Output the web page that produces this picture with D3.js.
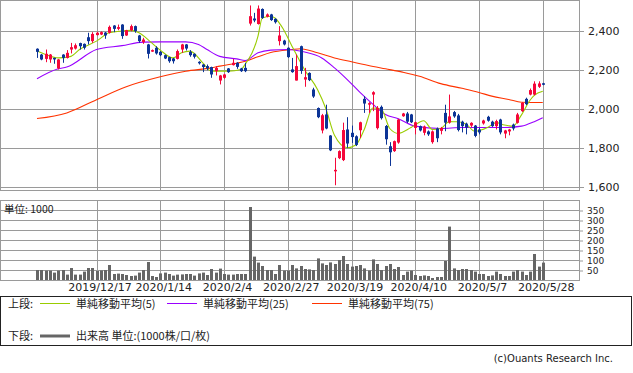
<!DOCTYPE html>
<html>
<head>
<meta charset="utf-8">
<script src="https://cdn.jsdelivr.net/npm/d3@7"></script>
<style>
  body { margin: 0; background: #fff; }
  text { font-family: "DejaVu Sans", sans-serif; fill: #222; }
  .jp { font-family: "Noto Sans CJK JP", sans-serif; }
</style>
</head>
<body>
<svg width="633" height="373"></svg>
<script>
// 取引日 (月ごと)
const months = [
  ["2019/11", [27, 28, 29]],
  ["2019/12", [2, 3, 4, 5, 6, 9, 10, 11, 12, 13, 16, 17, 18, 19, 20, 23, 24, 25, 26, 27, 30]],
  ["2020/1", [6, 7, 8, 9, 10, 14, 15, 16, 17, 20, 21, 22, 23, 24, 27, 28, 29, 30, 31]],
  ["2020/2", [3, 4, 5, 6, 7, 10, 12, 13, 14, 17, 18, 19, 20, 21, 25, 26, 27, 28]],
  ["2020/3", [2, 3, 4, 5, 6, 9, 10, 11, 12, 13, 16, 17, 18, 19, 23, 24, 25, 26, 27, 30, 31]],
  ["2020/4", [1, 2, 3, 6, 7, 8, 9, 10, 13, 14, 15, 16, 17, 20, 21, 22, 23, 24, 27, 28, 30]],
  ["2020/5", [1, 7, 8, 11, 12, 13, 14, 15, 18, 19, 20, 21, 22, 25, 26, 27, 28]]
];
const dates = months.flatMap(([m, ds]) => ds.map(d => m + "/" + d));

const tickDates = ["2019/12/17", "2020/1/14", "2020/2/4", "2020/2/27", "2020/3/19", "2020/4/10", "2020/5/7", "2020/5/28"];
const priceTicks = [1600, 1800, 2000, 2200, 2400];
const volTicks = [50, 100, 150, 200, 250, 300, 350];

// 四本値
const open = [
  2309, 2279, 2257, 2254, 2262, 2208, 2279, 2262, 2305, 2310,
  2338, 2334, 2368, 2348, 2379, 2382, 2392, 2391, 2428, 2411,
  2433, 2377, 2404, 2425, 2377, 2343, 2331, 2297, 2314, 2293,
  2276, 2266, 2259, 2257, 2305, 2331, 2293, 2283, 2242, 2228,
  2220, 2215, 2194, 2146, 2160, 2208, 2225, 2237, 2208, 2211,
  2438, 2464, 2436, 2513, 2473, 2485, 2462, 2348, 2351, 2314,
  2203, 2146, 2322, 2151, 2185, 2100, 2005, 1890, 1972, 1864,
  1683, 1748, 1738, 1895, 1878, 1860, 1891, 2052, 2026, 2074,
  1902, 2011, 1913, 1809, 1784, 1828, 1963, 1977, 1972, 1903,
  1912, 1878, 1885, 1830, 1900, 1888, 1980, 1930, 1984, 1967,
  1935, 1925, 1915, 1915, 1895, 1926, 1960, 1935, 1912, 1946,
  1874, 1885, 1920, 1929, 1989, 2052, 2074, 2074, 2114, 2132
];
const high = [
  2311, 2282, 2305, 2282, 2263, 2256, 2281, 2302, 2339, 2336,
  2340, 2336, 2391, 2394, 2396, 2398, 2395, 2428, 2430, 2433,
  2435, 2406, 2433, 2428, 2380, 2365, 2334, 2305, 2322, 2297,
  2279, 2268, 2262, 2305, 2334, 2333, 2302, 2285, 2245, 2230,
  2228, 2217, 2220, 2175, 2180, 2210, 2257, 2240, 2211, 2237,
  2531, 2493, 2531, 2516, 2490, 2488, 2465, 2425, 2355, 2316,
  2262, 2279, 2325, 2211, 2188, 2109, 2008, 1975, 2022, 1866,
  1750, 1788, 1930, 1958, 1915, 1865, 1935, 2066, 2035, 2091,
  2015, 2018, 1918, 1830, 1838, 1950, 1980, 1985, 1975, 1935,
  1915, 1915, 1890, 1890, 1905, 1908, 2022, 2074, 1990, 1975,
  1940, 1930, 1932, 1918, 1905, 1945, 1965, 1940, 1945, 1950,
  1893, 1898, 1925, 1980, 2035, 2058, 2105, 2142, 2142, 2134
];
const low = [
  2262, 2250, 2240, 2237, 2232, 2203, 2237, 2259, 2285, 2305,
  2305, 2305, 2331, 2339, 2377, 2379, 2360, 2387, 2394, 2404,
  2360, 2375, 2399, 2391, 2339, 2334, 2259, 2293, 2279, 2271,
  2256, 2237, 2233, 2254, 2288, 2300, 2268, 2259, 2228, 2189,
  2199, 2160, 2172, 2126, 2155, 2185, 2223, 2206, 2190, 2189,
  2428, 2445, 2433, 2462, 2470, 2452, 2438, 2326, 2326, 2262,
  2186, 2146, 2180, 2114, 2143, 2057, 1953, 1875, 1896, 1784,
  1609, 1743, 1733, 1801, 1826, 1810, 1852, 1980, 1980, 1989,
  1895, 1946, 1817, 1708, 1780, 1822, 1960, 1928, 1928, 1870,
  1885, 1865, 1862, 1822, 1830, 1870, 1886, 1925, 1955, 1885,
  1880, 1870, 1908, 1855, 1870, 1920, 1935, 1908, 1895, 1870,
  1850, 1865, 1890, 1925, 1985, 2020, 2070, 2070, 2108, 2122
];
const close = [
  2293, 2254, 2283, 2279, 2256, 2254, 2262, 2288, 2317, 2327,
  2322, 2314, 2348, 2385, 2391, 2394, 2377, 2421, 2411, 2420,
  2374, 2404, 2425, 2399, 2348, 2356, 2283, 2302, 2285, 2276,
  2259, 2245, 2245, 2297, 2331, 2310, 2276, 2268, 2237, 2215,
  2208, 2177, 2211, 2172, 2177, 2189, 2237, 2216, 2194, 2194,
  2476, 2454, 2515, 2467, 2485, 2456, 2445, 2377, 2331, 2266,
  2189, 2220, 2195, 2163, 2148, 2064, 1958, 1968, 1900, 1788,
  1688, 1784, 1892, 1823, 1856, 1816, 1932, 2028, 2030, 2086,
  2006, 1953, 1845, 1778, 1835, 1946, 1977, 1935, 1932, 1932,
  1890, 1910, 1870, 1885, 1850, 1903, 1930, 1962, 1962, 1892,
  1912, 1905, 1929, 1862, 1880, 1941, 1940, 1912, 1938, 1880,
  1890, 1895, 1900, 1972, 2031, 2025, 2097, 2130, 2131, 2128
];

// 出来高 (千株)
const volume = [
  50, 50, 47, 47, 37, 47, 50, 27, 60, 27,
  27, 42, 60, 60, 45, 48, 50, 75, 30, 32,
  30, 25, 20, 22, 37, 50, 90, 20, 15, 33,
  37, 30, 22, 27, 28, 30, 30, 22, 33, 37,
  25, 55, 37, 57, 30, 27, 27, 30, 30, 30,
  365, 117, 87, 70, 50, 50, 30, 75, 47, 47,
  75, 58, 70, 55, 53, 50, 108, 83, 75, 88,
  80, 100, 120, 80, 67, 70, 75, 58, 47, 103,
  80, 50, 70, 80, 55, 65, 25, 42, 47, 25,
  20, 23, 20, 10, 15, 15, 95, 267, 58, 50,
  55, 55, 50, 42, 30, 30, 20, 23, 42, 30,
  20, 20, 42, 50, 42, 25, 42, 130, 67, 87
];

// 移動平均 [日のインデックス, 値]
const ma5 = [
  [0, 2297], [2, 2280], [5, 2262], [8, 2270], [10, 2305], [14, 2348], [17, 2391], [20, 2400],
  [22, 2403], [24, 2391], [27, 2339], [29, 2302], [32, 2262], [34, 2288], [36, 2297], [39, 2237],
  [41, 2194], [45, 2194], [48, 2203], [49, 2230], [52, 2374], [53, 2467], [55, 2476], [56, 2467],
  [58, 2408], [60, 2322], [63, 2200], [66, 2100], [68, 2000], [70, 1865], [73, 1801], [75, 1815],
  [77, 1895], [79, 2005], [81, 2000], [83, 1900], [85, 1875], [88, 1905], [91, 1940], [93, 1895],
  [95, 1900], [97, 1935], [99, 1935], [101, 1922], [103, 1886], [106, 1905], [108, 1930],
  [110, 1918], [112, 1912], [114, 1970], [116, 2045], [117, 2070], [119, 2091]
];
const ma25 = [
  [0, 2155], [5, 2206], [7, 2215], [14, 2305], [20, 2325], [25, 2343], [29, 2344], [35, 2344],
  [38, 2331], [40, 2305], [43, 2270], [47, 2257], [49, 2249], [52, 2288], [55, 2302], [59, 2305],
  [63, 2292], [67, 2262], [70, 2211], [73, 2151], [76, 2085], [79, 2025], [82, 1972], [85, 1950],
  [89, 1912], [95, 1900], [100, 1905], [104, 1905], [110, 1905], [114, 1912], [117, 1935], [119, 1955]
];
const ma75 = [
  [0, 1951], [7, 1980], [14, 2048], [21, 2114], [29, 2165], [35, 2194], [41, 2211], [43, 2220],
  [49, 2245], [52, 2268], [55, 2290], [60, 2305], [62, 2309], [66, 2288], [70, 2262], [74, 2242],
  [78, 2223], [82, 2206], [86, 2189], [90, 2168], [95, 2130], [100, 2106], [104, 2085], [107, 2066],
  [111, 2049], [114, 2035], [119, 2033]
];

const svg = d3.select("svg");
const gridColor = "#9a9a9a";
const upColor = "#f5073a";
const downColor = "#0c3496";

const x = d3.scalePoint().domain(dates).range([37, 542.75]);
const y = d3.scaleLinear().domain([1600, 2400]).range([187, 31]);
const yv = d3.scaleLinear().domain([0, 350]).range([280, 210]);
const px = d => Math.round(x(d));

// <--- 上段 (株価)
const upper = svg.append("g");
upper.selectAll("line.hg").data(priceTicks).join("line")
  .attr("x1", 0).attr("x2", 580)
  .attr("y1", d => y(d) + 0.5).attr("y2", d => y(d) + 0.5)
  .attr("stroke", gridColor);
upper.selectAll("line.vg").data(tickDates).join("line")
  .attr("x1", d => px(d) + 0.5).attr("x2", d => px(d) + 0.5)
  .attr("y1", 0).attr("y2", 191)
  .attr("stroke", gridColor);
upper.append("rect")
  .attr("x", 0.5).attr("y", 0.5).attr("width", 579).attr("height", 190)
  .attr("fill", "none").attr("stroke", gridColor);

const yAxis = upper.append("g")
  .attr("transform", "translate(579,0)")
  .call(d3.axisRight(y).tickValues(priceTicks).tickSize(5).tickPadding(4).tickFormat(d3.format(",")));
yAxis.select(".domain").remove();
yAxis.selectAll("line").attr("stroke", gridColor);
yAxis.selectAll("text").attr("font-size", 11).attr("font-family", "DejaVu Sans").attr("fill", "#222");

// 移動平均線
const maLine = d3.line()
  .x(d => x(dates[d[0]]))
  .y(d => y(d[1]))
  .curve(d3.curveMonotoneX);
[[ma75, "#ff3300"], [ma25, "#9900ff"], [ma5, "#99cc00"]].forEach(([data, color]) => {
  upper.append("path")
    .attr("d", maLine(data))
    .attr("fill", "none")
    .attr("stroke", color)
    .attr("stroke-width", 1.1);
});

// ローソク足
const candles = dates.map((d, i) => ({ d, o: open[i], h: high[i], l: low[i], c: close[i] }));
const cg = upper.selectAll("g.candle").data(candles).join("g");
cg.append("line")
  .attr("x1", d => px(d.d) + 0.5).attr("x2", d => px(d.d) + 0.5)
  .attr("y1", d => y(d.h)).attr("y2", d => y(d.l))
  .attr("stroke", d => d.c >= d.o ? upColor : downColor);
cg.append("rect")
  .attr("x", d => px(d.d) - 1)
  .attr("width", 3)
  .attr("y", d => y(Math.max(d.o, d.c)))
  .attr("height", d => Math.max(1.5, Math.abs(y(d.o) - y(d.c))))
  .attr("fill", d => d.c >= d.o ? upColor : downColor);

// <--- 下段 (出来高)
const lower = svg.append("g");
lower.selectAll("line.hg").data(volTicks).join("line")
  .attr("x1", 0).attr("x2", 580)
  .attr("y1", d => yv(d) + 0.5).attr("y2", d => yv(d) + 0.5)
  .attr("stroke", gridColor);
lower.selectAll("line.vg").data(tickDates).join("line")
  .attr("x1", d => px(d) + 0.5).attr("x2", d => px(d) + 0.5)
  .attr("y1", 200).attr("y2", 281)
  .attr("stroke", gridColor);

lower.append("text")
  .attr("class", "jp")
  .attr("x", 4).attr("y", 213)
  .attr("font-size", 10.5)
  .text("単位: 1000");

lower.selectAll("rect.vol").data(dates).join("rect")
  .attr("x", d => px(d) - 1)
  .attr("width", 3)
  .attr("y", (d, i) => yv(volume[i]))
  .attr("height", (d, i) => yv(0) - yv(volume[i]))
  .attr("fill", "#666");

lower.append("rect")
  .attr("x", 0.5).attr("y", 200.5).attr("width", 579).attr("height", 80)
  .attr("fill", "none").attr("stroke", gridColor);

const vAxis = lower.append("g")
  .attr("transform", "translate(579,0.5)")
  .call(d3.axisRight(yv).tickValues(volTicks).tickSize(4).tickPadding(4));
vAxis.select(".domain").remove();
vAxis.selectAll("line").attr("stroke", gridColor);
vAxis.selectAll("text").attr("font-size", 9).attr("font-family", "DejaVu Sans").attr("fill", "#222");

const xAxis = svg.append("g")
  .attr("transform", "translate(0,278)")
  .call(d3.axisBottom(x).tickValues(tickDates).tickSize(0).tickPadding(5));
xAxis.select(".domain").remove();
xAxis.selectAll("text").attr("font-size", 11).attr("font-family", "DejaVu Sans").attr("fill", "#222").attr("dx", 3);

// <--- 凡例
const legend = svg.append("g");
legend.append("rect")
  .attr("x", 0.5).attr("y", 296.5).attr("width", 631).attr("height", 49)
  .attr("fill", "none").attr("stroke", "#222");

const legendItems = [
  { x: 40, color: "#99cc00", label: "単純移動平均(5)" },
  { x: 167, color: "#9900ff", label: "単純移動平均(25)" },
  { x: 312, color: "#ff3300", label: "単純移動平均(75)" }
];
legend.append("text").attr("class", "jp").attr("x", 8).attr("y", 308).attr("font-size", 11).text("上段:");
legendItems.forEach(it => {
  legend.append("line")
    .attr("x1", it.x).attr("x2", it.x + 30).attr("y1", 303.5).attr("y2", 303.5)
    .attr("stroke", it.color);
  legend.append("text").attr("class", "jp")
    .attr("x", it.x + 36).attr("y", 308).attr("font-size", 11).text(it.label);
});
legend.append("text").attr("class", "jp").attr("x", 8).attr("y", 340).attr("font-size", 11).text("下段:");
legend.append("line")
  .attr("x1", 40).attr("x2", 70).attr("y1", 336).attr("y2", 336)
  .attr("stroke", "#666").attr("stroke-width", 3);
legend.append("text").attr("class", "jp")
  .attr("x", 76).attr("y", 340).attr("font-size", 11).text("出来高 単位:(1000株/口/枚)");

svg.append("text")
  .attr("x", 613).attr("y", 362)
  .attr("text-anchor", "end")
  .attr("font-size", 10)
  .attr("fill", "#555")
  .text("(c)Ouants Research Inc.");
</script>
</body>
</html>
